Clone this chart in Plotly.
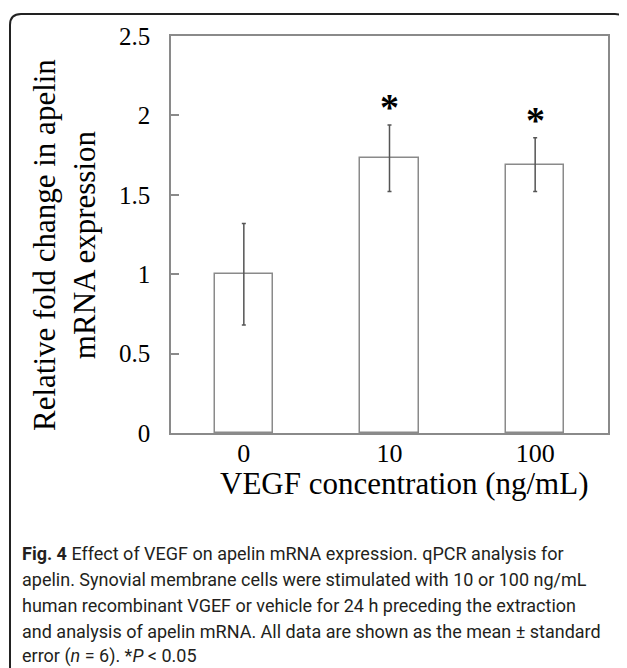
import plotly.graph_objects as go

# ---- data ----
categories = ["0", "10", "100"]
means = [1.0, 1.73, 1.69]
sem = [0.32, 0.21, 0.17]
significant = [False, True, True]
y_ticks = [0, 0.5, 1, 1.5, 2, 2.5]
y_tick_labels = ["0", "0.5", "1", "1.5", "2", "2.5"]
caption_lines = [
    "<b>Fig. 4</b> Effect of VEGF on apelin mRNA expression. qPCR analysis for",
    "apelin. Synovial membrane cells were stimulated with 10 or 100 ng/mL",
    "human recombinant VGEF or vehicle for 24 h preceding the extraction",
    "and analysis of apelin mRNA. All data are shown as the mean ± standard",
    "error (<i>n</i> = 6). *<i>P</i> &lt; 0.05",
]

OFF = 8  # default body margin of the html page
W, H = 627 - OFF, 668 - OFF
def px(x):
    return (x - OFF) / W
def py(y):
    return 1 - (y - OFF) / H

SERIF = "Liberation Serif, Times New Roman, serif"
GRAY = "#8a8a8a"

xpos = list(range(len(categories)))

fig = go.Figure()
fig.add_trace(go.Bar(
    x=xpos, y=means, width=0.4,
    marker=dict(color="white", line=dict(color=GRAY, width=1.5)),
    error_y=dict(type="data", array=sem, visible=True,
                 color="#555555", thickness=1.5, width=2),
    showlegend=False,
))

annotations = []
for xi, m, e, s in zip(xpos, means, sem, significant):
    if s:
        annotations.append(dict(
            x=xi, y=m + e, xref="x", yref="y", text="<b>*</b>", showarrow=False,
            yanchor="bottom", yshift=-5,
            font=dict(family=SERIF, size=38, color="black")))

# axis titles
annotations.append(dict(
    x=px(404), y=py(483), xref="paper", yref="paper",
    text="VEGF concentration (ng/mL)", showarrow=False,
    xanchor="center", yanchor="middle",
    font=dict(family=SERIF, size=31, color="black")))
annotations.append(dict(
    x=px(64), y=py(245), xref="paper", yref="paper",
    text="Relative fold change in apelin<br>mRNA expression", showarrow=False,
    textangle=-90, xanchor="center", yanchor="middle",
    font=dict(family=SERIF, size=31, color="black")))

cap_y = [553, 579, 605, 631, 656]
for t, yy in zip(caption_lines, cap_y):
    annotations.append(dict(
        x=px(20), y=py(yy), xref="paper", yref="paper", text=t,
        showarrow=False, xanchor="left", yanchor="middle",
        font=dict(family="Roboto", size=18, color="#231f20")))

# rounded border (top-left and top-right corners)
L, T, R, B = 10, 14, 626, 700
r = 11
path = (f"M {px(L)},{py(B)} L {px(L)},{py(T + r)} "
        f"Q {px(L)},{py(T)} {px(L + r)},{py(T)} "
        f"L {px(R - r)},{py(T)} Q {px(R)},{py(T)} {px(R)},{py(T + r)} "
        f"L {px(R)},{py(B)}")
shapes = [dict(type="path", xref="paper", yref="paper", path=path,
               line=dict(color="#222222", width=2))]

fig.update_layout(
    template="none",
    width=W, height=H, autosize=False,
    margin=dict(l=0, r=0, t=0, b=0, pad=0),
    paper_bgcolor="white", plot_bgcolor="white",
    annotations=annotations, shapes=shapes,
    bargap=0,
    xaxis=dict(
        domain=[px(171), px(608)], range=[-0.5, 2.5],
        tickvals=xpos, ticktext=categories,
        showline=True, linecolor=GRAY, linewidth=1.5, mirror=True,
        showgrid=False, ticks="", zeroline=False, automargin=False,
        ticklabelstandoff=-4,
        tickfont=dict(family=SERIF, size=26, color="black"),
        fixedrange=True,
    ),
    yaxis=dict(
        domain=[py(433), py(36)], range=[0, 2.5],
        tickvals=y_ticks, ticktext=y_tick_labels,
        showline=True, linecolor=GRAY, linewidth=1.5, mirror=True,
        showgrid=False, ticks="inside", ticklen=8, tickcolor=GRAY, tickwidth=1.5,
        zeroline=False, automargin=False, ticklabelstandoff=14,
        tickfont=dict(family=SERIF, size=25, color="black"),
        fixedrange=True,
    ),
)

fig.write_html("out.html")
